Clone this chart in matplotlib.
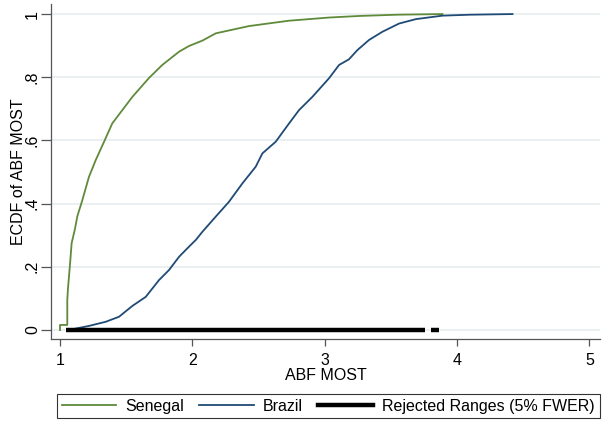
import matplotlib
matplotlib.use("Agg")
import matplotlib.pyplot as plt
from matplotlib.lines import Line2D

plt.rcParams["font.family"] = ["Liberation Sans", "DejaVu Sans"]

# ECDF points
senegal_x = [1.0, 1.0, 1.055, 1.055, 1.06, 1.076, 1.088, 1.113, 1.131, 1.168, 1.219,
             1.27, 1.333, 1.395, 1.471, 1.547, 1.673, 1.773, 1.9, 1.975, 2.076,
             2.177, 2.428, 2.73, 3.033, 3.26, 3.55, 3.89]
senegal_y = [0.0, 0.016, 0.016, 0.095, 0.13, 0.21, 0.275, 0.32, 0.36, 0.41, 0.485,
             0.538, 0.596, 0.654, 0.696, 0.738, 0.798, 0.839, 0.881, 0.899, 0.916,
             0.939, 0.962, 0.979, 0.989, 0.994, 0.998, 1.0]

brazil_x = [1.055, 1.1, 1.219, 1.345, 1.446, 1.546, 1.648, 1.748, 1.824, 1.9, 1.975,
            2.026, 2.076, 2.177, 2.277, 2.378, 2.479, 2.529, 2.63, 2.731, 2.806,
            2.907, 3.033, 3.109, 3.184, 3.247, 3.335, 3.436, 3.562, 3.689, 3.89,
            4.1, 4.419]
brazil_y = [0.0, 0.003, 0.013, 0.026, 0.042, 0.076, 0.105, 0.158, 0.19, 0.232, 0.264,
            0.285, 0.311, 0.359, 0.406, 0.464, 0.517, 0.559, 0.596, 0.654, 0.696,
            0.738, 0.797, 0.839, 0.857, 0.886, 0.918, 0.944, 0.97, 0.984, 0.995,
            0.998, 1.0]

rejected_start = [1.045, 3.80]
rejected_end = [3.76, 3.86]

yticks = [0, 0.2, 0.4, 0.6, 0.8, 1.0]
ytick_labels = ["0", ".2", ".4", ".6", ".8", "1"]
xticks = [1, 2, 3, 4, 5]

GREEN = "#5f8a3a"
BLUE = "#1f4a75"
GRID = "#e6eef0"
SPINE = "#555555"
FS = 11.5

fig = plt.figure(figsize=(6.05, 4.21), dpi=100)
ax = fig.add_axes([0.0843, 0.1936, 0.9074, 0.797])

for y in yticks:
    ax.axhline(y, color=GRID, lw=1.2, zorder=0)

ax.plot(senegal_x, senegal_y, color=GREEN, lw=1.3, zorder=2)
ax.plot(brazil_x, brazil_y, color=BLUE, lw=1.3, zorder=2)
ax.hlines([0] * len(rejected_start), rejected_start, rejected_end,
          color="black", lw=3.2, zorder=3)

ax.set_xlim(0.932, 5.08)
ax.set_ylim(-0.030, 1.032)
ax.set_xticks(xticks)
ax.set_yticks(yticks)
ax.set_yticklabels(ytick_labels, rotation=90, va="center")
ax.tick_params(axis="both", direction="out", width=0.9, color=SPINE, labelsize=FS)
ax.tick_params(axis="x", length=5, pad=5)
ax.tick_params(axis="y", length=7, pad=1)

for s in ("top", "right"):
    ax.spines[s].set_visible(False)
for s in ("left", "bottom"):
    ax.spines[s].set_color(SPINE)
    ax.spines[s].set_linewidth(0.9)

ax.set_xlabel("ABF MOST", fontsize=FS, labelpad=0)
ax.set_ylabel("ECDF of ABF MOST", fontsize=FS)
ax.yaxis.set_label_coords(-0.045, 0.5)

handles = [Line2D([], [], color=GREEN, lw=1.3),
           Line2D([], [], color=BLUE, lw=1.3),
           Line2D([], [], color="black", lw=3.2)]
labels = ["Senegal", "Brazil", "Rejected Ranges (5% FWER)"]
leg = fig.legend(handles, labels, ncol=3, loc="center",
                 bbox_to_anchor=(0.094, 0.002, 0.897, 0.0665), mode="expand",
                 fontsize=FS, frameon=True, fancybox=False, handlelength=3.4,
                 handletextpad=0.6, columnspacing=0.8, borderpad=0.3,
                 borderaxespad=0)
leg.get_frame().set_edgecolor("black")
leg.get_frame().set_linewidth(0.8)

fig.savefig("out.png", dpi=100)
